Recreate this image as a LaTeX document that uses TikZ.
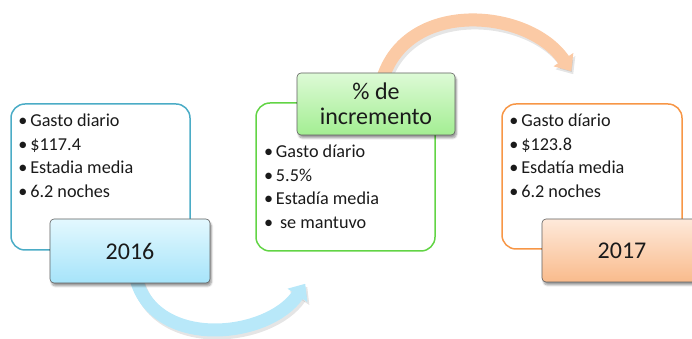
\documentclass[tikz,border=0pt]{standalone}
\usepackage{fontspec}
\setmainfont{Carlito}
\usetikzlibrary{arrows.meta,shadows.blur}
\definecolor{blueline}{HTML}{4BACC6}
\definecolor{greenline}{HTML}{62D445}
\definecolor{orangeline}{HTML}{F79646}
\definecolor{bluetop}{HTML}{E3F8FE}
\definecolor{bluebot}{HTML}{A6E4FA}
\definecolor{greentop}{HTML}{DDFAD6}
\definecolor{greenbot}{HTML}{A3EE92}
\definecolor{orangetop}{HTML}{FEE9DA}
\definecolor{orangebot}{HTML}{F9BB8C}
\definecolor{blueband}{HTML}{B8E8F9}
\definecolor{orangeband}{HTML}{FBCAA5}
\definecolor{txt}{HTML}{1A1A1A}
\newcommand{\bul}{\hspace*{1.5pt}\makebox[12pt][l]{•}}
\begin{document}
\begin{tikzpicture}[x=1pt,y=1pt,
  panel/.style={draw, line width=1.5pt, rounded corners=14pt, inner sep=0pt},
  yearbox/.style={draw=gray!75!black, line width=0.6pt, rounded corners=4pt,
    inner sep=0pt, align=center, text=txt,
    font=\fontsize{24}{25}\selectfont,
    blur shadow={shadow xshift=1.5pt, shadow yshift=-3pt, shadow blur steps=6, shadow opacity=40}},
  bullets/.style={anchor=base west, inner sep=0pt, align=left, text=txt,
    font=\fontsize{18.2}{23.7}\selectfont},
  band/.style={line width=13pt, -{Triangle[width=23pt,length=14pt]}},
  bandshadow/.style={line width=13pt, -{Triangle[width=23pt,length=14pt]},
    draw=black, opacity=0.10, transform canvas={shift={(2pt,-3pt)}}},
]
\useasboundingbox (0,0) rectangle (692,339);
% panels
\node[panel, draw=blueline, minimum width=179pt, minimum height=146pt] (p1) at (100.5,162) {};
\node[panel, draw=greenline, minimum width=179pt, minimum height=148pt] (p2) at (345.5,162) {};
\node[panel, draw=orangeline, minimum width=180pt, minimum height=145pt] (p3) at (592,162.5) {};
% texts (anchor = baseline of last line)
\node[bullets] (t1) at (16.6,141.4) {\bul Gasto diario\\ \bul \$117.4\\ \bul Estadia media\\ \bul 6.2 noches};
\node[bullets] (t2) at (262.3,110.4) {\bul Gasto díario\\ \bul 5.5\%\\ \bul Estadía media\\ \bul\hspace{4pt}se mantuvo};
\node[bullets] (t3) at (507.6,141.4) {\bul Gasto díario\\ \bul \$123.8\\ \bul Esdatía media\\ \bul 6.2 noches};
% label box centres
\coordinate (c1) at (130,88);
\coordinate (c2) at (376,235);
\coordinate (c3) at (622,88.5);
% arrows
\coordinate (a1s) at (135,64);
\coordinate (a1e) at ([xshift=50pt,yshift=-32pt]p2.south west);
\coordinate (a2s) at (380,250);
\coordinate (a2e) at ([xshift=70pt,yshift=32pt]p3.north west);
\draw[bandshadow] (a1s) .. controls (152,-12) and (268,0) .. (a1e);
\draw[band, draw=blueband] (a1s) .. controls (152,-12) and (268,0) .. (a1e);
\draw[bandshadow] (a2s) .. controls (398,342) and (528,332) .. (a2e);
\draw[band, draw=orangeband] (a2s) .. controls (398,342) and (528,332) .. (a2e);
% labels
\node[yearbox, top color=bluetop, bottom color=bluebot, minimum width=160pt, minimum height=64pt] (l1) at (c1) {2016};
\node[yearbox, top color=greentop, bottom color=greenbot, minimum width=158pt, minimum height=62pt] (l2) at (c2) {\% de\\incremento};
\node[yearbox, top color=orangetop, bottom color=orangebot, minimum width=160pt, minimum height=63pt] (l3) at (c3) {2017};
\end{tikzpicture}
\end{document}
